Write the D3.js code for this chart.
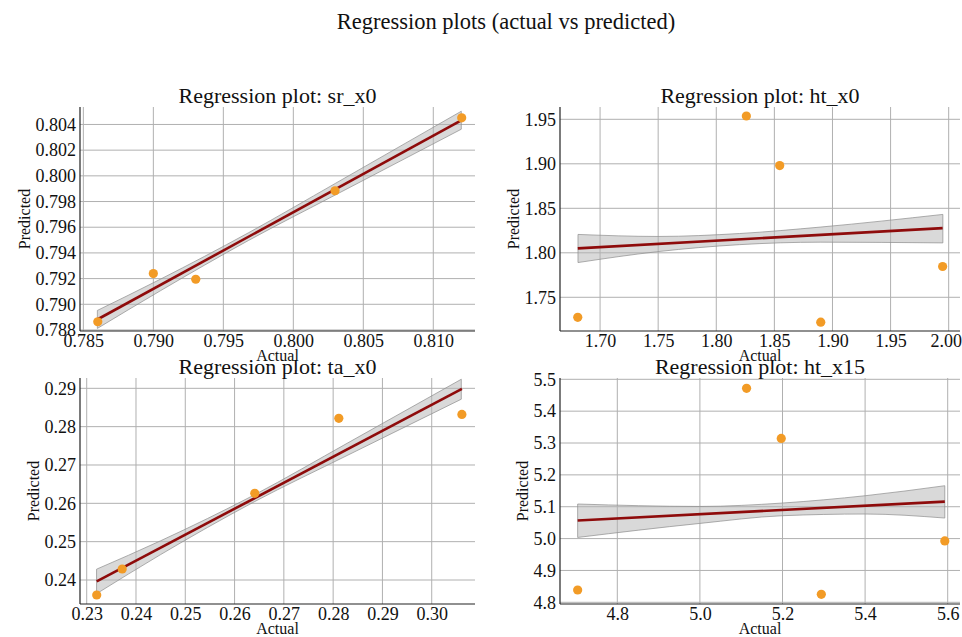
<!DOCTYPE html>
<html>
<head>
<meta charset="utf-8">
<script src="https://cdn.jsdelivr.net/npm/d3@7"></script>
<style>
  body { margin: 0; background: #fff; }
  svg text { font-family: "Liberation Serif", "DejaVu Serif", serif !important; fill: #111; }
</style>
</head>
<body>
<div id="chart"></div>
<script>
// values
var panelNames = ["sr_x0", "ht_x0", "ta_x0", "ht_x15"];

var srActual = [0.78603, 0.79000, 0.79303, 0.80298, 0.81203];
var srPredicted = [0.78864, 0.79239, 0.79195, 0.79884, 0.80452];
var srBandX = [0.786, 0.7905, 0.7968, 0.803, 0.812];
var srBandLo = [0.78812, 0.79105, 0.79497, 0.79851, 0.80363];
var srBandHi = [0.78952, 0.79195, 0.79557, 0.79941, 0.80503];
var srXLim = [0.78476, 0.81298];
var srYLim = [0.78792, 0.80536];
var srXTicks = [0.785, 0.790, 0.795, 0.800, 0.805, 0.810];
var srYTicks = [0.788, 0.790, 0.792, 0.794, 0.796, 0.798, 0.800, 0.802, 0.804];

var htActual = [1.6808, 1.8259, 1.8546, 1.8899, 1.9948];
var htPredicted = [1.7275, 1.9537, 1.8980, 1.7220, 1.7846];
var htBandX = [1.681, 1.75, 1.82, 1.89, 1.995];
var htBandLo = [1.78904, 1.80136, 1.80915, 1.81194, 1.81112];
var htBandHi = [1.82064, 1.81836, 1.82165, 1.82894, 1.84312];
var htXLim = [1.66552, 2.00974];
var htYLim = [1.71213, 1.96382];
var htXTicks = [1.70, 1.75, 1.80, 1.85, 1.90, 1.95, 2.00];
var htYTicks = [1.75, 1.80, 1.85, 1.90, 1.95];

var taActual = [0.23203, 0.23720, 0.26410, 0.28115, 0.30612];
var taPredicted = [0.23609, 0.24287, 0.26260, 0.28217, 0.28320];
var taBandX = [0.232, 0.245, 0.264, 0.283, 0.306];
var taBandLo = [0.23642, 0.24663, 0.26040, 0.27258, 0.28716];
var taBandHi = [0.24282, 0.25023, 0.26220, 0.27578, 0.29236];
var taXLim = [0.22864, 0.30878];
var taYLim = [0.23374, 0.29269];
var taXTicks = [0.23, 0.24, 0.25, 0.26, 0.27, 0.28, 0.29, 0.30];
var taYTicks = [0.24, 0.25, 0.26, 0.27, 0.28, 0.29];

var ht15Actual = [4.704, 5.113, 5.197, 5.294, 5.593];
var ht15Predicted = [4.8386, 5.4717, 5.3144, 4.8250, 4.9928];
var ht15BandX = [4.704, 5.0, 5.2, 5.4, 5.593];
var ht15BandLo = [5.0036, 5.0476, 5.0718, 5.0771, 5.0645];
var ht15BandHi = [5.1085, 5.1009, 5.1116, 5.1345, 5.1659];
var ht15XLim = [4.66126, 5.62978];
var ht15YLim = [4.79466, 5.50408];
var ht15XTicks = [4.8, 5.0, 5.2, 5.4, 5.6];
var ht15YTicks = [4.8, 4.9, 5.0, 5.1, 5.2, 5.3, 5.4, 5.5];

var panels = [
    {actual: srActual, predicted: srPredicted, bx: srBandX, lo: srBandLo, hi: srBandHi,
     xLim: srXLim, yLim: srYLim, xTicks: srXTicks, yTicks: srYTicks, xFmt: ".3f", yFmt: ".3f"},
    {actual: htActual, predicted: htPredicted, bx: htBandX, lo: htBandLo, hi: htBandHi,
     xLim: htXLim, yLim: htYLim, xTicks: htXTicks, yTicks: htYTicks, xFmt: ".2f", yFmt: ".2f"},
    {actual: taActual, predicted: taPredicted, bx: taBandX, lo: taBandLo, hi: taBandHi,
     xLim: taXLim, yLim: taYLim, xTicks: taXTicks, yTicks: taYTicks, xFmt: ".2f", yFmt: ".2f"},
    {actual: ht15Actual, predicted: ht15Predicted, bx: ht15BandX, lo: ht15BandLo, hi: ht15BandHi,
     xLim: ht15XLim, yLim: ht15YLim, xTicks: ht15XTicks, yTicks: ht15YTicks, xFmt: ".1f", yFmt: ".1f"}
];

// plot boxes in page pixels
var cells = [
    {left: 80, right: 475, top: 107, bottom: 331},
    {left: 560, right: 960, top: 107, bottom: 331},
    {left: 80, right: 475, top: 378, bottom: 604},
    {left: 560, right: 960, top: 378, bottom: 604}
];

var svgWidth = 962, svgHeight = 637;
var serif = '"Liberation Serif", "DejaVu Serif", serif';

var svg = d3.select("#chart")
    .append("svg")
    .attr("width", svgWidth)
    .attr("height", svgHeight);

svg.append("text")
    .attr("x", 506)
    .attr("y", 29)
    .attr("text-anchor", "middle")
    .attr("font-size", 22.5)
    .text("Regression plots (actual vs predicted)");

// ordinary least squares fit
function fit(xs, ys) {
    var mx = d3.mean(xs), my = d3.mean(ys);
    var sxy = d3.sum(xs, (x, i) => (x - mx) * (ys[i] - my));
    var sxx = d3.sum(xs, x => (x - mx) * (x - mx));
    var b = sxy / sxx;
    return x => my + b * (x - mx);
}

var titleLayer = [];

panels.forEach(function(p, k) {
    var c = cells[k];
    var w = c.right - c.left, h = c.bottom - c.top;

    var g = svg.append("g")
        .attr("transform", `translate(${c.left}, ${c.top})`);

    var xScale = d3.scaleLinear().domain(p.xLim).range([0, w]);
    var yScale = d3.scaleLinear().domain(p.yLim).range([h, 0]);

    // grid
    g.selectAll(".vgrid")
        .data(p.xTicks)
        .enter()
        .append("line")
        .attr("x1", d => xScale(d)).attr("x2", d => xScale(d))
        .attr("y1", 0).attr("y2", h)
        .attr("stroke", "#b0b0b0")
        .attr("stroke-width", 1);

    g.selectAll(".hgrid")
        .data(p.yTicks)
        .enter()
        .append("line")
        .attr("x1", 0).attr("x2", w)
        .attr("y1", d => yScale(d)).attr("y2", d => yScale(d))
        .attr("stroke", "#b0b0b0")
        .attr("stroke-width", 1);

    // confidence band
    var band = p.bx.map((x, i) => ({x: x, lo: p.lo[i], hi: p.hi[i]}));
    var area = d3.area()
        .x(d => xScale(d.x))
        .y0(d => yScale(d.lo))
        .y1(d => yScale(d.hi))
        .curve(d3.curveMonotoneX);

    g.append("path")
        .datum(band)
        .attr("d", area)
        .attr("fill", "#b4b4b4")
        .attr("fill-opacity", 0.5)
        .attr("stroke", "#8c8c8c")
        .attr("stroke-width", 0.7);

    // regression line
    var f = fit(p.actual, p.predicted);
    var ext = d3.extent(p.actual);
    g.append("line")
        .attr("x1", xScale(ext[0])).attr("y1", yScale(f(ext[0])))
        .attr("x2", xScale(ext[1])).attr("y2", yScale(f(ext[1])))
        .attr("stroke", "#8e0b0b")
        .attr("stroke-width", 2.6);

    // points
    g.selectAll("circle")
        .data(p.actual)
        .enter()
        .append("circle")
        .attr("cx", d => xScale(d))
        .attr("cy", (d, i) => yScale(p.predicted[i]))
        .attr("r", 4.6)
        .attr("fill", "#f29b26");

    // axes
    var xAxis = d3.axisBottom(xScale)
        .tickValues(p.xTicks)
        .tickFormat(d3.format(p.xFmt))
        .tickSize(0)
        .tickPadding(3);
    var yAxis = d3.axisLeft(yScale)
        .tickValues(p.yTicks)
        .tickFormat(d3.format(p.yFmt))
        .tickSize(0)
        .tickPadding(4);

    var xg = g.append("g")
        .attr("transform", `translate(0, ${h})`)
        .call(xAxis);
    var yg = g.append("g")
        .call(yAxis);

    [xg, yg].forEach(a => {
        a.attr("font-family", serif).attr("font-size", 18);
        a.select(".domain").remove();
        a.selectAll("text")
            .style("font-family", serif)
            .style("font-size", "18px")
            .attr("fill", "#111");
    });
    // last x label sits against the page edge
    if (k === 1) xg.selectAll(".tick").filter(d => d === 2.00).select("text").attr("dx", -3);

    // spines
    g.append("line")
        .attr("x1", 0).attr("x2", 0).attr("y1", 0).attr("y2", h)
        .attr("stroke", "#222").attr("stroke-width", 1.2);
    g.append("line")
        .attr("x1", 0).attr("x2", w).attr("y1", h).attr("y2", h)
        .attr("stroke", "#222").attr("stroke-width", 1.2);

    // axis titles
    var yBox = yg.node().getBBox();
    g.append("text")
        .attr("transform", `translate(${yBox.x - 6}, ${h / 2}) rotate(-90)`)
        .attr("text-anchor", "middle")
        .attr("font-size", 16)
        .text("Predicted");

    g.append("text")
        .attr("x", w / 2)
        .attr("y", h + 30)
        .attr("text-anchor", "middle")
        .attr("font-size", 16)
        .text("Actual");

    titleLayer.push({x: c.left + w / 2, y: c.top - 4, name: panelNames[k]});
});

// titles last so the lower ones sit over the upper "Actual" labels
svg.selectAll(".ptitle")
    .data(titleLayer)
    .enter()
    .append("text")
    .attr("x", d => d.x)
    .attr("y", d => d.y)
    .attr("text-anchor", "middle")
    .attr("font-size", 22)
    .text(d => "Regression plot: " + d.name);
</script>
</body>
</html>
